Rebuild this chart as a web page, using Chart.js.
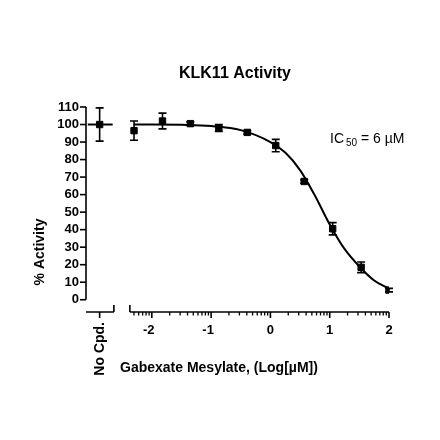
<!DOCTYPE html><html><head><meta charset="utf-8">
<script src="https://cdn.jsdelivr.net/npm/chart.js@4"></script>
<style>html,body{margin:0;background:#fff}#c{width:440px;height:440px}</style></head><body>
<div id="c"><canvas id="cv" width="440" height="440"></canvas></div>
<script>
const logConc=[-2.3,-1.82,-1.35,-0.87,-0.39,0.09,0.57,1.05,1.53,2.0];
const activity=[96.5,102,100.5,98,95.5,88,67.5,40.5,18.5,5.5];
const sem=[5.5,4.5,1,2,1,3.5,1,3.5,3,1];
const noCpdX=-2.88, noCpdVal=100, noCpdErr=9.5;
const curveX=[-2.3,-2,-1.5,-1,-0.5,0,0.25,0.5,0.75,1,1.25,1.5,1.75,2];
const curveY=[100,100,99.8,99.1,96.8,90,84,74,59.5,43,29,19,11,6.3];
const yTicks=[0,10,20,30,40,50,60,70,80,90,100,110];
const xTicks=[-2,-1,0,1,2];
const F='"Liberation Sans", Arial, sans-serif';
const XMIN=-3.11;
const deco={id:'deco',afterDatasetsDraw(ch){
 const c=ch.ctx,x=ch.scales.x,y=ch.scales.y;c.save();c.strokeStyle='#000';c.fillStyle='#000';c.lineWidth=1.6;
 const X=v=>x.getPixelForValue(v),Y=v=>y.getPixelForValue(v);
 const eb=(xv,yv,e)=>{c.beginPath();c.moveTo(X(xv),Y(yv-e));c.lineTo(X(xv),Y(yv+e));
  c.moveTo(X(xv)-4,Y(yv-e));c.lineTo(X(xv)+4,Y(yv-e));c.moveTo(X(xv)-4,Y(yv+e));c.lineTo(X(xv)+4,Y(yv+e));c.stroke();};
 logConc.forEach((v,i)=>eb(v,activity[i],sem[i]));eb(noCpdX,noCpdVal,noCpdErr);
 c.lineWidth=2;c.beginPath();c.moveTo(X(-3.08),Y(100));c.lineTo(X(-2.66),Y(100));c.stroke();
 c.lineWidth=1.6;
 const ax=X(XMIN);c.beginPath();c.moveTo(ax,Y(110));c.lineTo(ax,Y(0));c.stroke();
 c.font='bold 13px '+F;c.textAlign='right';c.textBaseline='middle';
 yTicks.forEach(t=>{c.beginPath();c.moveTo(ax-6,Y(t));c.lineTo(ax,Y(t));c.stroke();c.fillText(t,ax-7,Y(t));});
 const by=Y(-7);c.beginPath();c.moveTo(ax,by);c.lineTo(X(-2.64),by);c.moveTo(X(-2.37),by);c.lineTo(X(2),by);
 c.moveTo(X(-2.64),by);c.lineTo(X(-2.64),by-7);c.moveTo(X(-2.37),by);c.lineTo(X(-2.37),by-7);
 c.moveTo(X(noCpdX),by);c.lineTo(X(noCpdX),by+6);c.stroke();
 c.lineWidth=1.3;
 for(let d=-3;d<2;d++)for(let k=2;k<=9;k++){const v=d+Math.log10(k);if(v<-2.37)continue;
  c.beginPath();c.moveTo(X(v),by);c.lineTo(X(v),by+3.5);c.stroke();}
 c.lineWidth=1.6;c.textAlign='center';c.textBaseline='top';
 xTicks.forEach(t=>{c.beginPath();c.moveTo(X(t),by);c.lineTo(X(t),by+6);c.stroke();c.fillText(t,X(t)-(t<0?3:0),by+12);});
 c.font='bold 14px '+F;c.textAlign='left';c.textBaseline='middle';
 c.fillText('Gabexate Mesylate, (Log[µM])',120,368);
 c.save();c.translate(X(noCpdX)+1,by+10);c.rotate(-Math.PI/2);c.textAlign='right';c.fillText('No Cpd.',0,0);c.restore();
 c.save();c.translate(40,252);c.rotate(-Math.PI/2);c.textAlign='center';c.fillText('% Activity',0,0);c.restore();
 c.font='bold 16px '+F;c.textAlign='center';c.fillText('KLK11 Activity',235,74);
 c.font='14px '+F;c.textAlign='left';c.fillText('IC',330,139);c.font='10px '+F;c.fillText('50',346,143);
 c.font='14px '+F;c.fillText('= 6 µM',361,139);
 c.restore();}};
new Chart(document.getElementById('cv'),{type:'scatter',plugins:[deco],
 data:{datasets:[
  {data:curveX.map((v,i)=>({x:v,y:curveY[i]})),showLine:true,borderColor:'#000',borderWidth:2,pointRadius:0,cubicInterpolationMode:'monotone'},
  {data:logConc.map((v,i)=>({x:v,y:activity[i]})),pointStyle:'rect',pointRadius:4.5,backgroundColor:'#000',borderColor:'#000'},
  {data:[{x:noCpdX,y:noCpdVal}],pointStyle:'rect',pointRadius:4.5,backgroundColor:'#000',borderColor:'#000'}]},
 options:{responsive:false,animation:false,layout:{padding:{left:86,right:51,top:107,bottom:128}},
  plugins:{legend:{display:false},tooltip:{enabled:false}},
  scales:{x:{display:false,type:'linear',min:XMIN,max:2},y:{display:false,min:-7,max:110}}}});
</script></body></html>
